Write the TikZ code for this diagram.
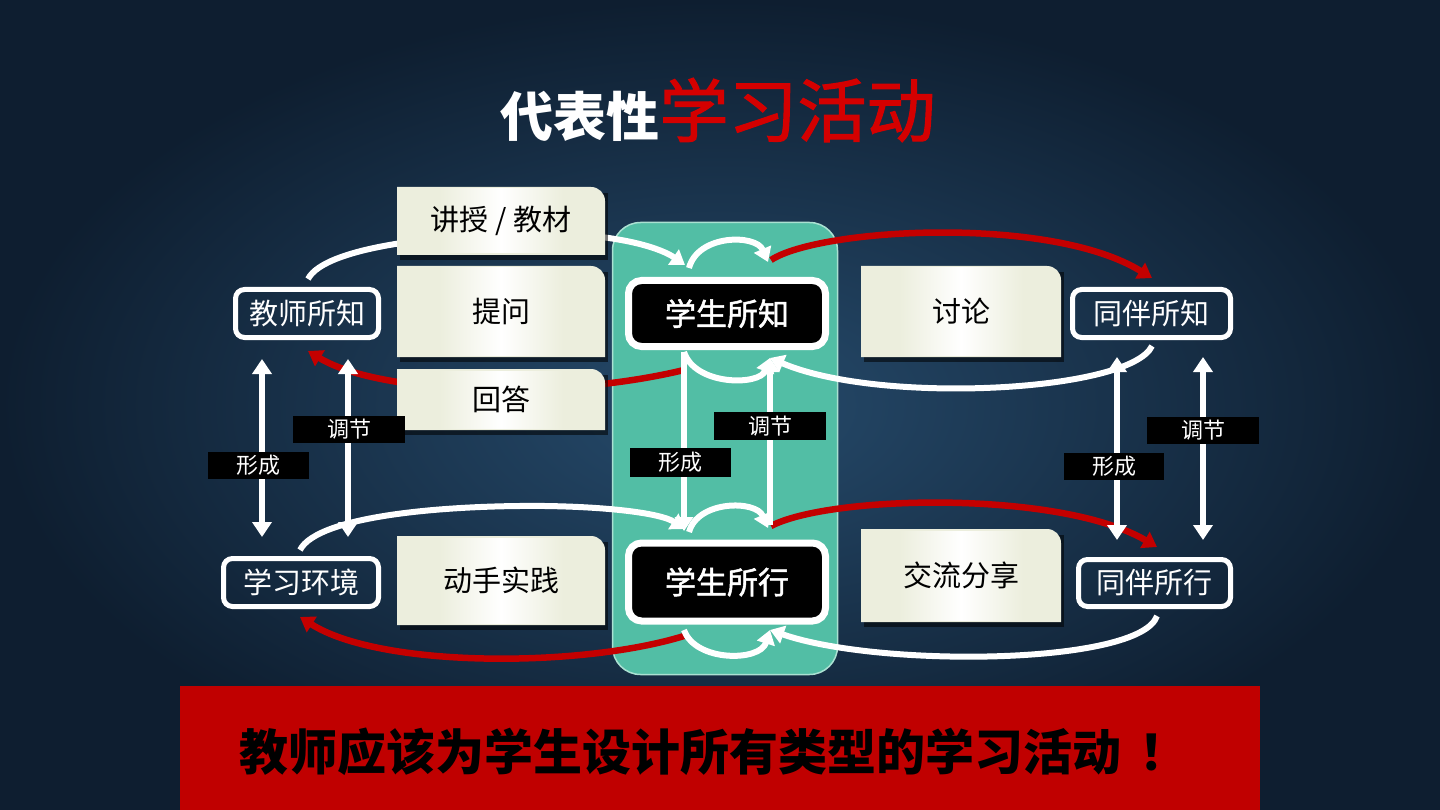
\documentclass[tikz,border=0pt]{standalone}
\usepackage{fontspec}
\setmainfont{Noto Sans CJK SC}
\newfontfamily\semib[FakeBold=1.6]{Noto Sans CJK SC}
\usetikzlibrary{arrows.meta}
\definecolor{bgin}{RGB}{38,75,108}
\definecolor{bgout}{RGB}{14,30,48}
\definecolor{panelc}{RGB}{82,190,165}
\definecolor{panelb}{RGB}{170,225,210}
\definecolor{cream}{RGB}{236,238,221}
\definecolor{bannerred}{RGB}{192,0,0}
\definecolor{linered}{RGB}{196,0,0}
\definecolor{titlered}{RGB}{212,0,0}
\newcommand\creambox[6]{%
  \fill[black,opacity=.55] ({#2+3},{#3+6}) rectangle ({#4+3},{#5+5});
  \fill[cream] (#2,#5) -- (#2,#3) [rounded corners=14pt] -- (#4,#3) [sharp corners] -- (#4,#5) -- cycle;
  \shade[left color=cream, right color=cream, middle color=white] ({(#2+#4)/2-62},{#3+2}) rectangle ({(#2+#4)/2+62},{#5-2});
  \node[ctext] (#1) at ({(#2+#4)/2},{(#3+#5)/2}) {#6};
}
\begin{document}
\begin{tikzpicture}[x=1pt,y=-1pt,
  wl/.style={draw=white, line width=6pt},
  rl/.style={draw=linered, line width=6.5pt},
  tip/.style={>={Triangle[width=18pt,length=14pt]}, ->},
  dtip/.style={>={Triangle[width=19pt,length=15pt]}, <->},
  wbox/.style={draw=white, line width=5pt, rounded corners=9pt, text=white, inner sep=0pt,
    font=\fontsize{29}{30}\selectfont},
  bbox/.style={draw=white, fill=black, line width=7pt, rounded corners=13pt, text=white, inner sep=0pt,
    font=\semib\fontsize{31}{32}\selectfont},
  ctext/.style={text=black, inner sep=0pt, font=\fontsize{29}{30}\selectfont},
  lab/.style={fill=black, text=white, inner sep=0pt, minimum height=27pt,
    font=\fontsize{22}{22}\selectfont}]
\useasboundingbox (0,0) rectangle (1440,810);
\shade[inner color=bgin, outer color=bgout] (0,0) rectangle (1440,810);

% central panel
\node[draw=panelb, line width=1.5pt, fill=panelc, rounded corners=28pt,
  minimum width=225pt, minimum height=452pt, inner sep=0pt] (panel) at (725,448.5) {};

% named coordinates for connector ends
\coordinate (tkT) at (308,279);
\coordinate (tkB) at (308,351);
\coordinate (hjT) at (300,550);
\coordinate (hjB) at (300,617);
\coordinate (bzT) at (1152,278);
\coordinate (bzB) at (1152,346);
\coordinate (bxT) at (1157,547);
\coordinate (bxB) at (1157,616);
\coordinate (skA) at (685,265);
\coordinate (skA2) at (689,268);
\coordinate (skB) at (768,262);
\coordinate (skB2) at (771,260);
\coordinate (skC) at (684,352);
\coordinate (skC2) at (684,370);
\coordinate (skD) at (770,358);
\coordinate (sxA) at (685,529);
\coordinate (sxA2) at (689,532);
\coordinate (sxB) at (768,528);
\coordinate (sxB2) at (771,526);
\coordinate (sxC) at (684,630);
\coordinate (sxC2) at (684,636);
\coordinate (sxD) at (770,630);
\coordinate (v1a) at (262,359); \coordinate (v1b) at (262,537);
\coordinate (v2a) at (348,359); \coordinate (v2b) at (348,537);
\coordinate (v3a) at (1117,357); \coordinate (v3b) at (1117,540);
\coordinate (v4a) at (1203,357); \coordinate (v4b) at (1203,540);
\coordinate (c1a) at (684,352); \coordinate (c1b) at (684,531);
\coordinate (c2a) at (770,525); \coordinate (c2b) at (770,358);

% upper connectors
\draw[wl,tip] (tkT) .. controls (325,246) and (450,232) .. (560,234) .. controls (625,236) and (662,249) .. (skA);
\draw[wl,tip] (skA2) .. controls (698,234) and (756,234) .. (skB);
\draw[rl,tip] (skB2) .. controls (820,228) and (1050,215) .. (bzT);
\draw[rl,tip] (skC2) .. controls (560,400) and (380,395) .. (tkB);
\draw[wl,tip] (skC) .. controls (695,386) and (760,386) .. (skD);
\draw[wl,tip] (bzB) .. controls (1130,392) and (880,405) .. (skD);

% lower connectors
\draw[wl,tip] (hjT) .. controls (318,515) and (450,505) .. (545,506) .. controls (615,507) and (662,514) .. (sxA);
\draw[wl,tip] (sxA2) .. controls (698,500) and (756,500) .. (sxB);
\draw[rl,tip] (sxB2) .. controls (830,495) and (1060,490) .. (bxT);
\draw[rl,tip] (sxC2) .. controls (580,668) and (380,668) .. (hjB);
\draw[wl,tip] (sxC) .. controls (695,662) and (760,662) .. (sxD);
\draw[wl,tip] (bxB) .. controls (1140,665) and (880,668) .. (sxD);

% vertical arrows
\draw[wl,dtip] (v1a) -- (v1b);
\draw[wl,dtip] (v2a) -- (v2b);
\draw[wl,dtip] (v3a) -- (v3b);
\draw[wl,dtip] (v4a) -- (v4b);
\draw[wl,tip] (c1a) -- (c1b);
\draw[wl,tip] (c2a) -- (c2b);

% activity boxes
\creambox{jsjc}{397}{187}{605}{255}{讲授 / 教材}
\creambox{tw}{397}{266}{605}{357}{提问}
\creambox{hd}{397}{369}{605}{430}{回答}
\creambox{dssj}{397}{536}{605}{625}{动手实践}
\creambox{tl}{861}{266}{1061}{357}{讨论}
\creambox{jlfx}{861}{529}{1061}{622}{交流分享}

% knowledge boxes
\node[wbox, minimum width=143pt, minimum height=48pt] (tk) at (307,313.5) {教师所知};
\node[wbox, minimum width=155pt, minimum height=48pt] (hj) at (301,582.5) {学习环境};
\node[wbox, minimum width=158pt, minimum height=48pt] (bz) at (1151.5,313.5) {同伴所知};
\node[wbox, minimum width=152pt, minimum height=47pt] (bx) at (1154.5,583) {同伴所行};
\node[bbox, minimum width=197pt, minimum height=66pt] (sk) at (727,313.5) {学生所知};
\node[bbox, minimum width=197pt, minimum height=78pt] (sx) at (727,582) {学生所行};

% labels
\node[lab, minimum width=112pt] (l1) at (349,429.5) {调节};
\node[lab, minimum width=101pt] (l2) at (258.5,465.5) {形成};
\node[lab, minimum width=112pt, minimum height=28pt] (l3) at (770,426) {调节};
\node[lab, minimum width=101pt, minimum height=29pt] (l4) at (680.5,462.5) {形成};
\node[lab, minimum width=100pt] (l5) at (1114,466.5) {形成};
\node[lab, minimum width=112pt] (l6) at (1203,430.5) {调节};

% title
\node[inner sep=0pt] (title) at (718,110)
  {\textcolor{white}{\bfseries\fontsize{53}{60}\selectfont 代表性}\textcolor{titlered}{\semib\fontsize{69}{72}\selectfont 学习活动}};

% banner
\fill[bannerred] (180,686) rectangle (1260,810);
\node[inner sep=0pt, text=black, font=\bfseries\fontsize{49}{52}\selectfont] (msg) at (714,752) {教师应该为学生设计所有类型的学习活动\hspace{0.35em}！};
\end{tikzpicture}
\end{document}
